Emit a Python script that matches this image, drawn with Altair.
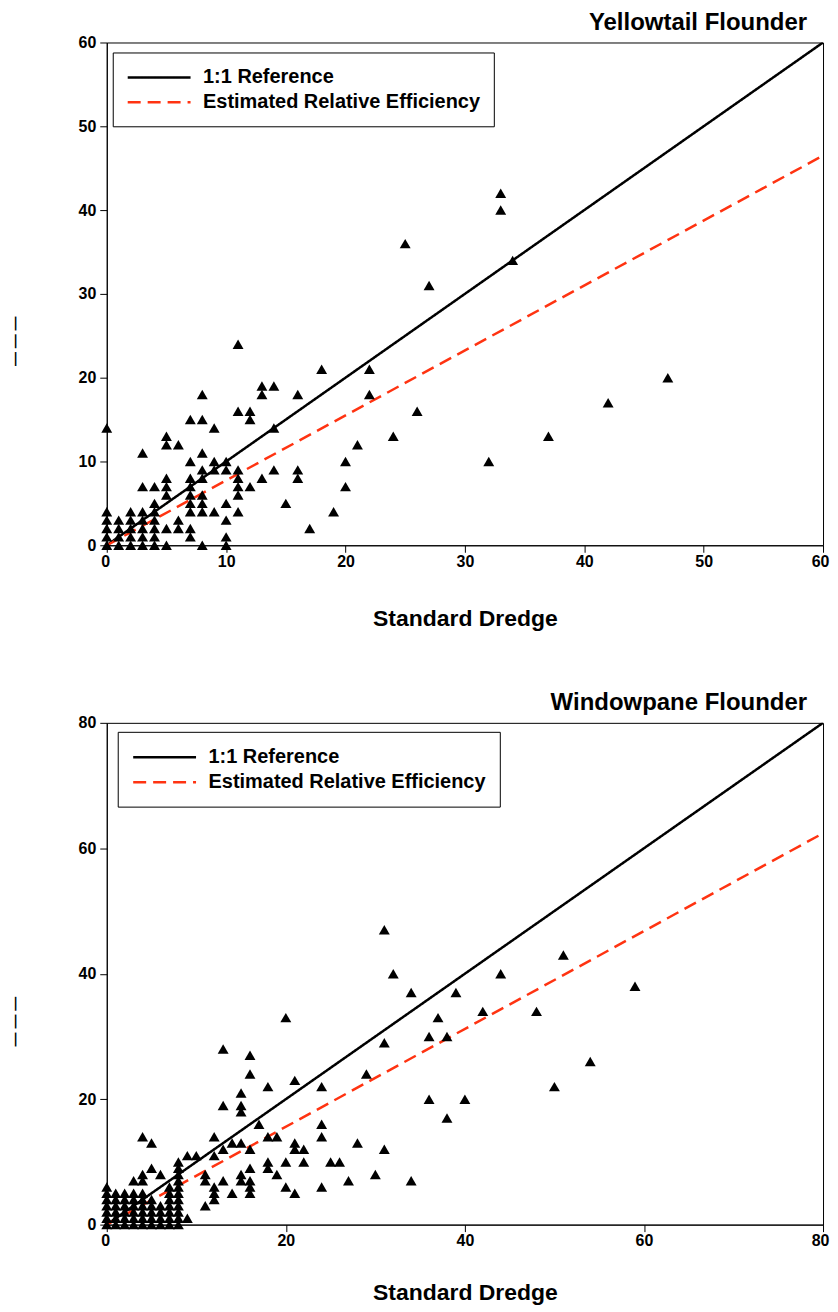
import altair as alt
import pandas as pd

FONT = "Liberation Sans"
RED = "#ff3311"
REF_LABEL = "1:1 Reference"
EST_LABEL = "Estimated Relative Efficiency"

# ---------------- Yellowtail Flounder ----------------
yt_std = [0, 0, 0, 0, 0, 0,
          1, 1, 1, 1,
          2, 2, 2, 2, 2,
          3, 3, 3, 3, 3, 3, 3,
          4, 4, 4, 4, 4, 4, 4,
          5, 5, 5, 5, 5, 5, 5,
          6, 6, 6,
          7, 7, 7, 7, 7, 7, 7, 7, 7,
          8, 8, 8, 8, 8, 8, 8, 8, 8,
          9, 9, 9, 9,
          10, 10, 10, 10, 10, 10,
          11, 11, 11, 11, 11, 11, 11,
          12, 12, 12,
          13, 13, 13,
          14, 14, 14,
          15,
          16, 16, 16,
          17, 18, 19, 20, 20, 21, 22, 22, 24, 25, 26, 27, 32, 33, 33, 34, 37, 42, 47]
yt_exp = [0, 1, 2, 3, 4, 14,
          0, 1, 2, 3,
          0, 1, 2, 3, 4,
          0, 1, 2, 3, 4, 7, 11,
          0, 1, 2, 3, 4, 5, 7,
          0, 2, 6, 7, 8, 12, 13,
          2, 3, 12,
          1, 2, 4, 5, 6, 7, 8, 10, 15,
          0, 4, 5, 6, 8, 9, 11, 15, 18,
          4, 9, 10, 14,
          0, 1, 3, 5, 9, 10,
          4, 6, 7, 8, 9, 16, 24,
          7, 15, 16,
          8, 18, 19,
          9, 14, 19,
          5,
          8, 9, 18,
          2, 21, 4, 7, 10, 12, 18, 21, 13, 36, 16, 31, 10, 40, 42, 34, 13, 17, 20]
yt_line_x = [0, 60]
yt_ref_y = [0, 60]
yt_est_y = [0, 46.5]

# ---------------- Windowpane Flounder ----------------
wp_std = ([0] * 7 + [1] * 6 + [2] * 6 + [3] * 7 + [4] * 9 + [5] * 7 + [6] * 5 + [7] * 7 + [8] * 11
          + [9, 9, 10, 11, 11, 11, 12, 12, 12, 12, 12, 13, 13, 13, 13, 14, 14,
             15, 15, 15, 15, 15, 15, 16, 16, 16, 16, 16, 16, 16, 17, 18, 18, 18, 18, 19, 19,
             20, 20, 20, 21, 21, 21, 21, 22, 22, 24, 24, 24, 24, 25, 26, 27, 28, 29, 30,
             31, 31, 31, 32, 34, 34, 36, 36, 37, 38, 38, 39, 40, 42, 44, 48, 50, 51, 54, 59])
wp_exp = ([0, 1, 2, 3, 4, 5, 6]
          + [0, 1, 2, 3, 4, 5]
          + [0, 1, 2, 3, 4, 5]
          + [0, 1, 2, 3, 4, 5, 7]
          + [0, 1, 2, 3, 4, 5, 7, 8, 14]
          + [0, 1, 2, 3, 4, 9, 13]
          + [0, 1, 2, 3, 8]
          + [0, 1, 2, 3, 4, 5, 6]
          + [0, 1, 2, 3, 4, 5, 6, 7, 8, 9, 10]
          + [1, 11, 11, 3, 7, 8, 4, 5, 6, 11, 14, 7, 12, 19, 28, 5, 13,
             7, 8, 13, 18, 19, 21, 5, 6, 7, 9, 12, 24, 27, 16, 9, 10, 14, 22, 8, 14,
             6, 10, 33, 5, 12, 13, 23, 10, 12, 6, 14, 16, 22, 10, 10, 7, 13, 24, 8,
             12, 29, 47, 40, 7, 37, 20, 30, 33, 17, 30, 37, 20, 34, 40, 34, 22, 43, 26, 38])
wp_line_x = [0, 80]
wp_ref_y = [0, 80]
wp_est_y = [0, 62.4]


def panel(xs, ys, line_x, ref_y, est_y, title, top, step, h, tpad, lx, ly, lpad):
    pts = pd.DataFrame({"x": xs, "y": ys})
    lines = pd.DataFrame({
        "x": line_x + line_x,
        "y": ref_y + est_y,
        "s": [REF_LABEL, REF_LABEL, EST_LABEL, EST_LABEL],
    })
    ticks = list(range(0, top + 1, step))
    xsc = alt.Scale(domain=[0, top], nice=False, zero=True)
    ysc = alt.Scale(domain=[0, top], nice=False, zero=True)
    xaxis = alt.Axis(values=ticks, title="Standard Dredge", titleFontSize=23,
                     titlePadding=tpad, labelFlush=True, labelFlushOffset=6,
                     labelPadding=1)
    yaxis = alt.Axis(values=ticks, title="— — —", titleFontSize=14,
                     titleX=-91, titleY=299, titleBaseline="middle", labelFlush=False,
                     labelPadding=4)
    scatter = alt.Chart(pts).mark_point(
        shape="triangle-up", filled=True, color="black", size=120, opacity=1
    ).encode(
        x=alt.X("x:Q", scale=xsc, axis=xaxis),
        y=alt.Y("y:Q", scale=ysc, axis=yaxis),
    )
    leg = alt.Legend(
        title=None, orient="none", legendX=lx, legendY=ly,
        strokeColor="black", fillColor="white", padding=lpad,
        labelFontSize=20, labelFont=FONT, labelFontWeight="bold", labelColor="black",
        symbolType="M-1,0L5.3,0", symbolSize=400, symbolStrokeWidth=2.5,
        labelOffset=54, rowPadding=3, labelLimit=500,
    )
    ln = alt.Chart(lines).mark_line(strokeWidth=2.5, clip=True).encode(
        x=alt.X("x:Q", scale=xsc),
        y=alt.Y("y:Q", scale=ysc),
        color=alt.Color("s:N", scale=alt.Scale(domain=[REF_LABEL, EST_LABEL],
                                               range=["black", RED]), legend=leg),
        strokeDash=alt.StrokeDash("s:N", scale=alt.Scale(domain=[REF_LABEL, EST_LABEL],
                                                         range=[[1, 0], [13, 7]]), legend=leg),
    )
    return alt.layer(ln, scatter).properties(
        width=718, height=h,
        title=alt.TitleParams(title, anchor="end", frame="group", fontSize=24, font=FONT,
                              fontWeight="bold", color="black", dx=-16, offset=0),
    )


p1 = panel(yt_std, yt_exp, yt_line_x, yt_ref_y, yt_est_y, "Yellowtail Flounder",
           60, 10, 504, 38, 6, 10, 13.5)
p2 = panel(wp_std, wp_exp, wp_line_x, wp_ref_y, wp_est_y, "Windowpane Flounder",
           80, 20, 503, 33, 11, 9, 14)

chart = alt.vconcat(p1, p2, spacing=59).resolve_scale(
    color="independent", strokeDash="independent", x="independent", y="independent"
).resolve_legend(color="independent", strokeDash="independent").configure(
    padding={"left": 0, "top": 0, "right": 0, "bottom": 0},
).configure_view(
    stroke="black", strokeWidth=1
).configure_axis(
    grid=False, domainColor="black", tickColor="black", tickSize=7,
    labelFont=FONT, labelFontWeight="bold", labelFontSize=16, labelColor="black",
    titleFont=FONT, titleFontWeight="bold", titleColor="black",
).configure_concat(spacing=59)

chart.save("out.html", embed_options={"renderer": "svg", "actions": False})
